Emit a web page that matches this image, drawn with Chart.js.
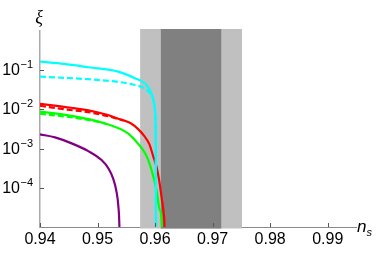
<!DOCTYPE html>
<html lang="en">
<head>
<meta charset="UTF-8">
<title>xi vs n_s</title>
<script src="https://cdn.jsdelivr.net/npm/chart.js"></script>
<style>
  html, body { margin: 0; padding: 0; background: #fff; }
  #wrap { width: 382px; height: 255px; }
</style>
</head>
<body>
<div id="wrap"><canvas id="xiChart"></canvas></div>
<script>
// values (n_s on x, xi on a log y axis)
const cyanSolidNs = [0.9400, 0.9442, 0.9484, 0.9536, 0.9565, 0.9582, 0.95875, 0.95931, 0.95969, 0.95991, 0.96003, 0.9601, 0.96013, 0.96015, 0.96016];
const cyanSolidXi = [0.166, 0.145, 0.119, 0.092, 0.0624, 0.0465, 0.0374, 0.0263, 0.0179, 0.0122, 0.0076, 0.004, 0.0009, 0.00001, 0.000001];

const cyanDashNs = [0.9400, 0.9484, 0.9536, 0.9565, 0.95818, 0.95875, 0.95932, 0.95969, 0.95991, 0.96003, 0.9601, 0.96013, 0.96015, 0.96016];
const cyanDashXi = [0.0686, 0.0589, 0.0502, 0.042, 0.0346, 0.0295, 0.0233, 0.0174, 0.0122, 0.0076, 0.004, 0.0009, 0.00001, 0.000001];

const redSolidNs = [0.9400, 0.9454, 0.9484, 0.9513, 0.9536, 0.9557, 0.9571, 0.9581, 0.9590, 0.9597, 0.9603, 0.9607, 0.9612, 0.9615, 0.96163, 0.9617];
const redSolidXi = [0.0139, 0.0110, 0.0094, 0.0075, 0.0058, 0.0045, 0.0031, 0.0021, 0.0013, 0.00062, 0.00032, 0.000157, 0.000048, 0.000022, 0.00001, 0.000001];

const redDashNs = [0.9400, 0.9442, 0.9484, 0.9520, 0.9545];
const redDashXi = [0.0124, 0.0101, 0.0085, 0.0066, 0.0052];

const greenSolidNs = [0.9400, 0.94538, 0.95123, 0.95528, 0.95649, 0.95793, 0.95875, 0.95939, 0.96026, 0.96083, 0.96118, 0.9612];
const greenSolidXi = [0.00873, 0.0069, 0.00441, 0.00245, 0.00165, 0.00091, 0.00054, 0.00028, 0.000087, 0.000027, 0.00001, 0.000001];

const greenDashNs = [0.9400, 0.9454, 0.9490, 0.9513];
const greenDashXi = [0.0078, 0.0063, 0.0052, 0.0044];

const purpleNs = [0.9400, 0.9426, 0.9455, 0.9484, 0.9507, 0.9519, 0.9527, 0.9533, 0.9536, 0.9538, 0.9539];
const purpleXi = [0.00231, 0.00193, 0.00136, 0.00086, 0.00051, 0.00031, 0.000173, 0.000079, 0.000036, 0.00001, 0.000001];

// shaded n_s ranges
const outerBand = [0.9574, 0.9751];
const innerBand = [0.9610, 0.9715];

// ticks
const xTickValues = [0.94, 0.95, 0.96, 0.97, 0.98, 0.99];
const xTickLabels = ['0.94', '0.95', '0.96', '0.97', '0.98', '0.99'];
const yTickValues = [1e-1, 1e-2, 1e-3, 1e-4];
const yTickExponents = ['\u22121', '\u22122', '\u22123', '\u22124'];

const pair = (xs, ys) => xs.map((x, i) => ({ x: x, y: ys[i] }));

function curve(label, color, xs, ys, dash, order) {
  return {
    label: label,
    data: pair(xs, ys),
    borderColor: color,
    borderWidth: 2.2,
    borderDash: dash || [],
    borderJoinStyle: 'round',
    pointRadius: 0,
    fill: false,
    cubicInterpolationMode: 'monotone',
    order: order
  };
}

// bands behind the curves, inward ticks, superscript labels, axis titles
const decorations = {
  id: 'decorations',
  beforeDatasetsDraw(chart) {
    const { ctx, chartArea, scales: { x } } = chart;
    const top = chartArea.top - 2;
    const h = chartArea.bottom + 1.5 - top;
    ctx.save();
    ctx.fillStyle = '#c0c0c0';
    let a = x.getPixelForValue(outerBand[0]), b = x.getPixelForValue(outerBand[1]);
    ctx.fillRect(a, top, b - a, h);
    ctx.fillStyle = '#808080';
    a = x.getPixelForValue(innerBand[0]); b = x.getPixelForValue(innerBand[1]);
    ctx.fillRect(a, top, b - a, h);
    ctx.restore();
  },
  afterDraw(chart) {
    const { ctx, chartArea, scales: { x, y } } = chart;
    ctx.save();
    ctx.strokeStyle = '#555';
    ctx.lineWidth = 1;
    xTickValues.forEach(v => {
      const px = Math.round(x.getPixelForValue(v)) + 0.5;
      ctx.beginPath();
      ctx.moveTo(px, chartArea.bottom);
      ctx.lineTo(px, chartArea.bottom - 4);
      ctx.stroke();
    });
    yTickValues.forEach((v, i) => {
      const py = Math.round(y.getPixelForValue(v)) + 0.5;
      ctx.beginPath();
      ctx.moveTo(chartArea.left, py);
      ctx.lineTo(chartArea.left + 4, py);
      ctx.stroke();

      ctx.fillStyle = '#000';
      ctx.textBaseline = 'middle';
      ctx.textAlign = 'right';
      ctx.font = '11px "Liberation Sans"';
      const expW = ctx.measureText(yTickExponents[i]).width;
      const right = 33;
      ctx.fillText(yTickExponents[i], right, py - 6);
      ctx.font = '16px "Liberation Sans"';
      ctx.fillText('10', right - expW - 0.5, py + 0.5);
    });

    ctx.fillStyle = '#000';
    ctx.textAlign = 'center';
    ctx.textBaseline = 'alphabetic';
    ctx.font = 'italic 18px "Liberation Serif"';
    ctx.fillText('\u03be', chartArea.left - 1, 23);

    ctx.textAlign = 'left';
    ctx.font = 'italic 17px "Liberation Sans"';
    ctx.fillText('n', 357, 232);
    const nW = ctx.measureText('n').width;
    ctx.font = 'italic 11px "Liberation Sans"';
    ctx.fillText('s', 357 + nW, 236);
    ctx.restore();
  }
};

new Chart(document.getElementById('xiChart').getContext('2d'), {
  type: 'line',
  data: {
    datasets: [
      curve('cyan', '#00ffff', cyanSolidNs, cyanSolidXi, null, 0),
      curve('cyan dashed', '#00ffff', cyanDashNs, cyanDashXi, [6, 3], 1),
      curve('red', '#ff0000', redSolidNs, redSolidXi, null, 2),
      curve('red dashed', '#ff0000', redDashNs, redDashXi, [6, 3], 3),
      curve('green', '#00ff00', greenSolidNs, greenSolidXi, null, 4),
      curve('green dashed', '#00ff00', greenDashNs, greenDashXi, [6, 3], 5),
      curve('purple', '#800080', purpleNs, purpleXi, null, 6)
    ]
  },
  options: {
    responsive: true,
    maintainAspectRatio: false,
    animation: false,
    layout: { padding: { top: 31, right: 25.5, left: 0, bottom: 0 } },
    plugins: { legend: { display: false }, tooltip: { enabled: false } },
    scales: {
      x: {
        type: 'linear',
        min: 0.94,
        max: 0.995,
        afterBuildTicks: s => { s.ticks = xTickValues.map(v => ({ value: v })); },
        afterFit: s => { s.height = 28; },
        grid: { display: false, drawTicks: false },
        border: { display: true, color: '#8a8a8a', width: 1 },
        ticks: {
          autoSkip: false,
          maxRotation: 0,
          padding: 3,
          color: '#000',
          font: { family: 'Liberation Sans', size: 16 },
          callback: (v, i) => xTickLabels[i]
        }
      },
      y: {
        type: 'logarithmic',
        min: 1e-5,
        max: 1,
        afterBuildTicks: s => { s.ticks = yTickValues.map(v => ({ value: v })); },
        afterFit: s => { s.width = 40; },
        grid: { display: false, drawTicks: false },
        border: { display: true, color: '#a8a8a8', width: 1.5 },
        ticks: { display: false }
      }
    }
  },
  plugins: [decorations]
});
</script>
</body>
</html>
